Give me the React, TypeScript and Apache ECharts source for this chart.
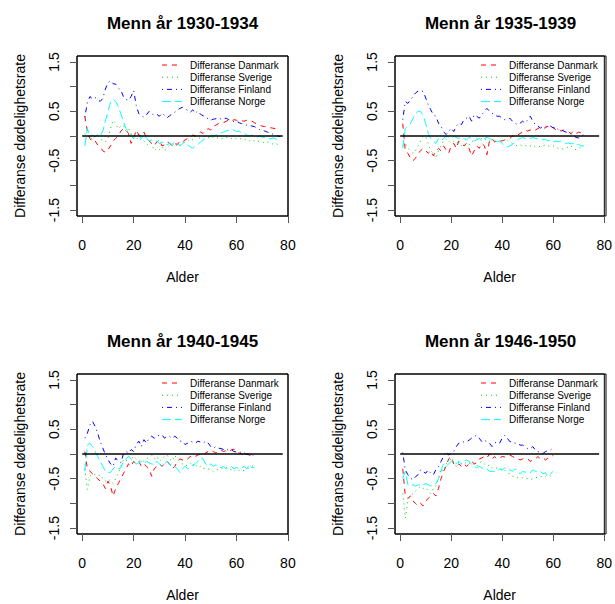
import React, { useEffect, useRef } from "react";
import * as echarts from "echarts";

// ---- Text ----
const panelTitles = ["Menn år 1930-1934", "Menn år 1935-1939", "Menn år 1940-1945", "Menn år 1946-1950"];
const seriesNames = ["Differanse Danmark", "Differanse Sverige", "Differanse Finland", "Differanse Norge"];
const xAxisTitle = "Alder";
const yAxisTitle = "Differanse dødelighetsrate";

// ---- Axis ticks ----
const xTicks = [0, 20, 40, 60, 80];
const yTicks = [-1.5, -1, -0.5, 0, 0.5, 1, 1.5];
const yTickLabels = [-1.5, -0.5, 0.5, 1.5];
const xLimits = [1, 77];
const yLimits = [-1.5, 1.5];
const referenceLineX = [0, 78];

// ---- Data: values per age, starting at age 1 ----
// 1930-1934
const dk1930 = [0.40,0.10,-0.05,-0.12,-0.10,-0.18,-0.22,-0.30,-0.33,-0.28, -0.20,-0.10,-0.05,0.00,0.10,0.15,0.12,0.05,-0.15,-0.05, 0.12,0.02,0.00,0.08,-0.05,-0.10,-0.15,-0.20,-0.12,-0.08, -0.20,-0.18,-0.12,-0.15,-0.20,-0.15,-0.17,-0.10,-0.12,-0.08, -0.05,-0.02,0.02,0.00,0.05,0.08,0.05,0.12,0.15,0.12, 0.20,0.22,0.25,0.28,0.27,0.30,0.32,0.30,0.33,0.32, 0.30,0.31,0.30,0.32,0.30,0.30,0.27,0.24,0.22,0.20, 0.19,0.18,0.17,0.16,0.15,0.13,0.12];
const se1930 = [0.05,-0.02,0.00,-0.08,0.00,0.02,-0.05,-0.10,-0.12,-0.05, 0.15,0.32,0.25,0.15,0.20,0.22,0.10,0.15,0.05,-0.05, -0.02,-0.10,-0.05,-0.10,-0.15,-0.20,-0.15,-0.30,-0.25,-0.28, -0.22,-0.30,-0.25,-0.18,-0.20,-0.15,-0.22,-0.18,-0.15,-0.12, -0.10,-0.05,-0.08,0.00,-0.03,-0.05,-0.02,0.00,-0.03,-0.05, -0.02,-0.05,-0.03,-0.06,-0.04,-0.03,-0.02,-0.05,-0.03,-0.06, -0.04,-0.07,-0.08,-0.06,-0.10,-0.08,-0.10,-0.12,-0.10,-0.12, -0.14,-0.12,-0.15,-0.16,-0.14,-0.17,-0.15];
const fi1930 = [0.38,0.68,0.80,0.75,0.78,0.74,0.70,0.76,0.95,1.08, 1.12,1.06,1.05,0.97,0.93,0.80,0.74,0.72,0.80,0.92, 0.62,0.45,0.41,0.38,0.43,0.50,0.45,0.42,0.44,0.40, 0.46,0.42,0.37,0.41,0.45,0.48,0.52,0.56,0.58,0.55, 0.52,0.48,0.53,0.46,0.51,0.44,0.41,0.38,0.35,0.32, 0.34,0.35,0.37,0.34,0.35,0.36,0.33,0.32,0.29,0.30, 0.27,0.25,0.24,0.22,0.22,0.20,0.19,0.16,0.13,0.12, 0.10,0.08,0.06,0.04,0.02,0.00,-0.01];
const no1930 = [-0.20,0.15,0.00,0.02,-0.02,0.03,0.00,0.10,0.30,0.50, 0.68,0.75,0.70,0.60,0.45,0.30,0.15,0.10,0.00,-0.05, 0.05,0.00,-0.05,0.03,-0.05,-0.10,-0.08,-0.12,-0.10,-0.15, -0.12,-0.15,-0.18,-0.15,-0.17,-0.13,-0.16,-0.20,-0.15,-0.12, -0.18,-0.22,-0.25,-0.20,-0.17,-0.12,-0.08,-0.05,-0.02,0.00, 0.00,0.02,0.04,0.06,0.08,0.10,0.12,0.14,0.12,0.09, 0.10,0.06,0.05,0.02,0.00,0.02,0.01,-0.02,0.00,-0.02, -0.03,-0.05,-0.06,-0.04,-0.05,-0.08,-0.07];
// 1935-1939
const dk1935 = [0.25,-0.30,-0.35,-0.45,-0.50,-0.45,-0.35,-0.30,-0.25,-0.30, -0.35,-0.30,-0.40,-0.30,-0.25,-0.30,-0.20,-0.28,-0.35,-0.20, -0.15,-0.25,-0.10,-0.15,-0.20,-0.15,-0.25,-0.40,-0.30,-0.20, -0.25,-0.15,-0.20,-0.38,-0.10,-0.05,-0.12,-0.08,-0.10,-0.10, -0.08,-0.05,-0.05,0.00,-0.02,0.02,0.05,0.08,0.12,0.10, 0.12,0.15,0.12,0.15,0.18,0.15,0.17,0.20,0.15,0.18, 0.12,0.15,0.10,0.12,0.10,0.08,0.05,0.10,0.05,0.08, 0.06,0.10];
const se1935 = [-0.20,-0.15,-0.25,-0.30,-0.35,-0.30,-0.20,-0.10,0.00,-0.02, -0.15,-0.30,-0.35,-0.45,-0.30,-0.20,-0.10,-0.05,-0.10,-0.15, -0.10,-0.12,-0.15,-0.20,-0.15,-0.20,-0.18,-0.12,-0.08,-0.05, -0.08,-0.05,-0.08,-0.05,-0.10,-0.08,-0.10,-0.12,-0.10,-0.08, -0.10,-0.08,-0.12,-0.15,-0.18,-0.20,-0.18,-0.20,-0.20,-0.18, -0.20,-0.18,-0.22,-0.20,-0.22,-0.20,-0.18,-0.20,-0.22,-0.20, -0.22,-0.25,-0.25,-0.27,-0.25,-0.22,-0.20,-0.25,-0.28,-0.25, -0.22,-0.25];
const fi1935 = [0.33,0.70,0.66,0.73,0.80,0.87,0.91,0.92,0.90,0.77, 0.63,0.53,0.43,0.40,0.26,0.20,0.09,0.03,0.09,0.16, 0.09,0.20,0.26,0.23,0.33,0.36,0.40,0.30,0.43,0.40, 0.36,0.43,0.50,0.56,0.50,0.46,0.43,0.40,0.40,0.36, 0.33,0.33,0.36,0.30,0.26,0.23,0.26,0.30,0.26,0.33, 0.40,0.30,0.23,0.20,0.16,0.20,0.20,0.18,0.20,0.16, 0.18,0.13,0.13,0.10,0.08,0.06,0.04,0.00,-0.03,-0.04, 0.00,0.03];
const no1935 = [-0.25,0.15,0.20,0.25,0.35,0.45,0.50,0.50,0.42,0.25, 0.05,-0.05,-0.10,-0.15,-0.05,-0.10,-0.05,0.00,-0.02,-0.05, 0.00,-0.03,-0.05,-0.02,-0.05,-0.08,-0.03,-0.05,-0.10,-0.08, -0.05,-0.10,-0.05,-0.03,-0.05,-0.08,-0.10,-0.12,-0.10,-0.15, -0.20,-0.22,-0.20,-0.17,-0.12,-0.08,-0.05,-0.03,-0.05,-0.03, -0.05,-0.03,-0.05,-0.06,-0.05,-0.08,-0.07,-0.10,-0.08,-0.12, -0.10,-0.12,-0.10,-0.13,-0.15,-0.14,-0.16,-0.15,-0.18,-0.17, -0.20,-0.20];
// 1940-1945
const dk1940 = [0.05,-0.30,-0.35,-0.40,-0.45,-0.50,-0.55,-0.60,-0.70,-0.55, -0.65,-0.85,-0.70,-0.60,-0.50,-0.40,-0.30,-0.20,-0.25,-0.15, -0.20,-0.15,-0.25,-0.20,-0.25,-0.30,-0.45,-0.30,-0.25,-0.20, -0.25,-0.20,-0.15,-0.20,-0.30,-0.25,-0.15,-0.10,-0.12,-0.08, -0.10,-0.05,-0.08,-0.05,-0.02,0.00,-0.03,0.02,0.05,0.08, 0.05,0.02,0.05,0.08,0.05,0.07,0.05,0.08,0.10,0.05, 0.02,0.00,-0.02,0.02,-0.03,0.00,0.05];
const se1940 = [-0.30,-0.72,-0.45,-0.40,-0.42,-0.45,-0.42,-0.50,-0.55,-0.50, -0.55,-0.60,-0.50,-0.40,-0.25,-0.12,-0.15,-0.05,-0.10,-0.05, -0.10,-0.15,-0.12,-0.15,-0.10,-0.05,-0.02,-0.10,-0.05,-0.15, -0.10,-0.05,-0.02,-0.10,-0.15,-0.03,-0.10,-0.15,-0.20,-0.25, -0.22,-0.18,-0.25,-0.20,-0.28,-0.25,-0.30,-0.28,-0.30,-0.32, -0.36,-0.33,-0.30,-0.28,-0.30,-0.27,-0.30,-0.32,-0.35,-0.30, -0.33,-0.35,-0.33,-0.30,-0.28,-0.25,-0.22];
const fi1940 = [0.32,0.42,0.59,0.66,0.56,0.42,0.25,0.12,-0.01,-0.11, -0.20,-0.25,-0.08,-0.15,-0.18,0.00,0.05,0.02,0.09,0.05, 0.19,0.26,0.15,0.29,0.22,0.32,0.36,0.32,0.36,0.38, 0.39,0.32,0.36,0.36,0.32,0.36,0.32,0.26,0.26,0.19, 0.22,0.26,0.24,0.22,0.26,0.24,0.22,0.26,0.22,0.15, 0.12,0.15,0.12,0.11,0.09,0.10,0.07,0.09,0.05,0.04, 0.02,0.05,0.02,-0.01,0.00,-0.01,-0.05];
const no1940 = [-0.35,0.18,0.22,0.15,0.05,-0.05,-0.15,-0.25,-0.35,-0.38, -0.37,-0.30,-0.25,-0.30,-0.28,-0.15,-0.10,-0.05,-0.10,-0.15, -0.20,-0.18,-0.15,-0.20,-0.15,-0.18,-0.20,-0.22,-0.15,-0.20, -0.25,-0.20,-0.15,-0.22,-0.20,-0.25,-0.30,-0.38,-0.30,-0.25, -0.30,-0.28,-0.22,-0.20,-0.15,-0.08,-0.10,-0.20,-0.25,-0.20, -0.25,-0.22,-0.25,-0.28,-0.25,-0.30,-0.28,-0.25,-0.30,-0.27, -0.30,-0.28,-0.25,-0.30,-0.22,-0.28,-0.27];
// 1946-1950
const dk1946 = [-0.30,-0.85,-0.90,-0.85,-0.95,-1.00,-1.05,-1.00,-1.05,-0.95, -0.90,-0.85,-0.80,-0.85,-0.70,-0.50,-0.35,-0.25,-0.10,-0.05, -0.20,-0.25,-0.20,-0.25,-0.20,-0.25,-0.20,-0.15,-0.20,-0.18, -0.10,-0.08,-0.05,-0.08,0.00,-0.10,-0.05,-0.10,-0.08,-0.05, -0.06,-0.04,-0.02,-0.05,-0.08,-0.10,-0.12,-0.10,-0.08,-0.10, -0.15,-0.12,-0.10,-0.05,-0.10,-0.08,-0.12,-0.08,-0.05,-0.03];
const se1946 = [-0.80,-1.30,-0.95,-0.85,-0.80,-0.75,-0.70,-0.65,-0.70,-0.68, -0.75,-0.80,-0.70,-0.65,-0.50,-0.30,-0.35,-0.20,-0.15,-0.10, -0.20,-0.25,-0.15,-0.20,-0.15,-0.20,-0.18,-0.22,-0.20,-0.25, -0.18,-0.15,-0.20,-0.25,-0.22,-0.28,-0.30,-0.28,-0.30,-0.35, -0.33,-0.38,-0.40,-0.45,-0.45,-0.48,-0.50,-0.48,-0.50,-0.50, -0.52,-0.50,-0.48,-0.47,-0.45,-0.47,-0.45,-0.42,-0.45,-0.40];
const fi1946 = [0.03,-0.32,-0.42,-0.49,-0.52,-0.46,-0.42,-0.32,-0.36,-0.39, -0.32,-0.39,-0.42,-0.32,-0.26,-0.15,-0.05,0.05,-0.02,0.01, 0.05,0.15,0.22,0.22,0.25,0.25,0.28,0.32,0.35,0.38, 0.32,0.25,0.28,0.25,0.22,0.15,0.22,0.25,0.22,0.32, 0.38,0.32,0.25,0.25,0.22,0.22,0.18,0.18,0.15,0.11, 0.11,0.15,0.08,0.05,0.03,0.01,0.05,0.07,0.08,0.13];
const no1946 = [-0.50,-0.35,-0.62,-0.65,-0.62,-0.65,-0.63,-0.60,-0.62,-0.60, -0.62,-0.65,-0.63,-0.60,-0.50,-0.35,-0.20,-0.25,-0.20,-0.15, -0.12,-0.20,-0.15,-0.20,-0.15,-0.12,-0.15,-0.20,-0.25,-0.28, -0.25,-0.28,-0.30,-0.30,-0.35,-0.35,-0.35,-0.35,-0.30,-0.32, -0.28,-0.33,-0.32,-0.35,-0.30,-0.35,-0.40,-0.35,-0.37,-0.35, -0.38,-0.32,-0.35,-0.37,-0.35,-0.40,-0.38,-0.45,-0.40,-0.35];

const panelData = [
  [dk1930, se1930, fi1930, no1930],
  [dk1935, se1935, fi1935, no1935],
  [dk1940, se1940, fi1940, no1940],
  [dk1946, se1946, fi1946, no1946],
];

// ---- Styles ----
const FONT = "'Liberation Sans', Arial, Helvetica, sans-serif";
const lineColors = ["#FF0000", "#00CD00", "#0000FF", "#00FFFF"];
const lineDashes: number[][] = [[5, 5], [1, 4], [1, 4, 5, 4], [9, 4]];

// panel geometry (px)
const boxLeft = [77, 395];
const boxTop = [56, 374];
const boxWidth = 211;
const boxHeight = 160;

function pad(lim: number[]) {
  const r = lim[1] - lim[0];
  return [lim[0] - 0.04 * r, lim[1] + 0.04 * r];
}

export default function App() {
  const ref = useRef<HTMLDivElement>(null);

  useEffect(() => {
    if (!ref.current) return;
    const chart = echarts.init(ref.current, undefined, { renderer: "svg" });
    const xr = pad(xLimits);
    const yr = pad(yLimits);

    const grids: any[] = [];
    const xAxes: any[] = [];
    const yAxes: any[] = [];
    const series: any[] = [];
    const graphics: any[] = [];

    for (let p = 0; p < 4; p++) {
      const col = p % 2;
      const row = Math.floor(p / 2);
      const left = boxLeft[col];
      const top = boxTop[row];
      grids.push({ left, top, width: boxWidth, height: boxHeight, show: true, borderColor: "#000", borderWidth: 1 });
      xAxes.push({
        type: "value", gridIndex: p, min: xr[0], max: xr[1],
        axisLine: { show: false, onZero: false },
        splitLine: { show: false },
        axisTick: { show: true, length: 7, customValues: xTicks },
        axisLabel: { customValues: xTicks, margin: 22, fontSize: 14, color: "#000", fontFamily: FONT },
        name: xAxisTitle, nameLocation: "middle", nameGap: 54,
        nameTextStyle: { fontSize: 14, color: "#000", fontFamily: FONT },
      });
      yAxes.push({
        type: "value", gridIndex: p, min: yr[0], max: yr[1],
        axisLine: { show: false, onZero: false },
        splitLine: { show: false },
        axisTick: { show: true, length: 7, customValues: yTicks },
        axisLabel: {
          customValues: yTickLabels, rotate: 90, margin: 16, fontSize: 14, color: "#000", fontFamily: FONT,
          formatter: (v: number) => v.toFixed(1),
        },
        name: yAxisTitle, nameLocation: "middle", nameGap: 50,
        nameTextStyle: { fontSize: 14, color: "#000", fontFamily: FONT },
      });
      panelData[p].forEach((vals, k) => {
        series.push({
          type: "line", name: seriesNames[k], xAxisIndex: p, yAxisIndex: p,
          data: vals.map((v, i) => [i + 1, v]),
          symbol: "none",
          lineStyle: { color: lineColors[k], width: 1, type: lineDashes[k] },
        });
      });
      series.push({
        type: "line", name: "ref" + p, xAxisIndex: p, yAxisIndex: p,
        data: referenceLineX.map((x) => [x, 0]),
        symbol: "none",
        lineStyle: { color: "#000", width: 1.3, type: "solid" },
      });
      // plot box
      graphics.push({
        type: "rect", shape: { x: left, y: top, width: boxWidth, height: boxHeight },
        style: { fill: "none", stroke: "#000", lineWidth: 1 },
      });
      // title
      graphics.push({
        type: "text", x: left + boxWidth / 2, y: top - 33,
        style: {
          text: panelTitles[p], textAlign: "center", textVerticalAlign: "middle",
          fontSize: 17, fontWeight: "bold", fontFamily: FONT, fill: "#000",
        },
      });
      // legend (no frame, as in the source)
      const lx = left + 85 + (col === 1 ? 1 : 0);
      seriesNames.forEach((nm, k) => {
        const ly = top + 9 + 12.2 * k;
        graphics.push({
          type: "line", shape: { x1: lx, y1: ly, x2: lx + 20, y2: ly },
          style: { stroke: lineColors[k], lineWidth: 1, lineDash: lineDashes[k] },
        });
        graphics.push({
          type: "text", x: lx + 28, y: ly,
          style: { text: nm, textAlign: "left", textVerticalAlign: "middle", fontSize: 10, fontFamily: FONT, fill: "#000" },
        });
      });
    }

    chart.setOption({
      animation: false,
      grid: grids,
      xAxis: xAxes,
      yAxis: yAxes,
      series,
      graphic: graphics,
    });
    return () => chart.dispose();
  }, []);

  return (
    <div
      ref={ref}
      style={{ position: "fixed", left: 0, top: 0, width: 615, height: 604, background: "#fff" }}
    />
  );
}
